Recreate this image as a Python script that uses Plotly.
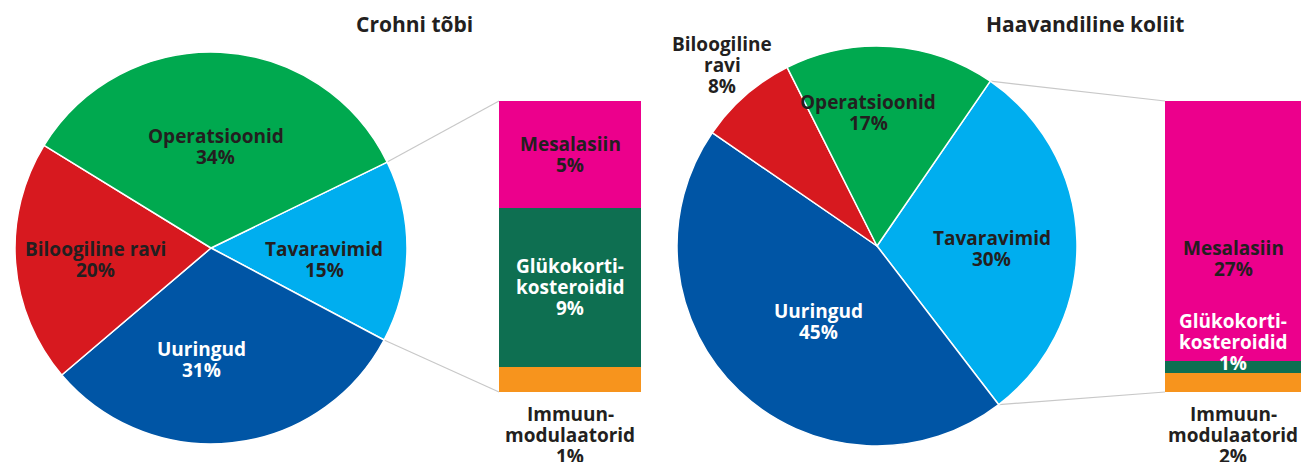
import math
import plotly.graph_objects as go

# ---------------- data ----------------
pie_titles = ["Crohni tõbi", "Haavandiline koliit"]
pie_categories = ["Tavaravimid", "Uuringud", "Biloogiline ravi", "Operatsioonid"]
crohn_values = [15, 31, 20, 34]
colitis_values = [30, 45, 8, 17]
crohn_pie_names = ["Tavaravimid", "Uuringud", "Biloogiline ravi", "Operatsioonid"]
colitis_pie_names = ["Tavaravimid", "Uuringud", "Biloogiline<br>ravi", "Operatsioonid"]

bar_categories = ["Immuunmodulaatorid", "Glükokortikosteroidid", "Mesalasiin"]  # bottom -> top
bar_names = ["Immuun-<br>modulaatorid", "Glükokorti-<br>kosteroidid", "Mesalasiin"]
crohn_bar_values = [1.3, 8.2, 5.5]
colitis_bar_values = [2.0, 1.2, 26.8]
crohn_bar_labels = ["1%", "9%", "5%"]
colitis_bar_labels = ["2%", "1%", "27%"]

# ---------------- style ----------------
W, H = 1301, 462
FONT = "Open Sans"
DARK = "#231f20"
WHITE = "#ffffff"
pie_colors = ["#00aeef", "#0055a5", "#d7191f", "#00a94f"]
pie_text_colors = [DARK, WHITE, DARK, DARK]
bar_colors = ["#f7941d", "#0e6f51", "#ec008c"]
bar_text_colors = [DARK, WHITE, DARK]

PIE_CENTERS = [(211, 248), (877, 246)]   # px, top-left origin
PIE_RADII = [196, 200]
PIE_ROT = [64.0, 34.5]
LABEL_RF = [[0.58, 0.57, 0.59, 0.52], [0.575, 0.48, 1.19, 0.67]]
LABEL_DA = [[5, 11, -1.5, 0], [2.5, -5.7, 0.5, -7.7]]
BAR_X = [(499, 641), (1165, 1301)]
BAR_Y = (101, 392)
BAR_LABEL_SHIFT = [[-43, 0, 0], [-43, 25, -28]]
TITLE_POS = [(414, 24), (1085, 24)]
LINE_H = 21
LABEL_SIZE = 19

fig = go.Figure()


def add_text(x, y, text, color, size, xref="paper", yref="paper", yshift=0, line_h=LINE_H):
    lines = text.split("<br>")
    n = len(lines)
    for i, ln in enumerate(lines):
        fig.add_annotation(
            x=x, y=y, xref=xref, yref=yref, text="<b>%s</b>" % ln, showarrow=False,
            font=dict(family=FONT, size=size, color=color),
            xanchor="center", yanchor="middle",
            yshift=yshift + ((n - 1) / 2 - i) * line_h,
        )


pie_values = [crohn_values, colitis_values]
pie_names = [crohn_pie_names, colitis_pie_names]
bar_values = [crohn_bar_values, colitis_bar_values]
bar_labels = [crohn_bar_labels, colitis_bar_labels]

for k in range(2):
    cx, cy = PIE_CENTERS[k]
    r = PIE_RADII[k]
    fig.add_trace(go.Pie(
        labels=pie_categories, values=pie_values[k], sort=False, direction="clockwise",
        rotation=PIE_ROT[k], textinfo="none", hoverinfo="skip", showlegend=False,
        marker=dict(colors=pie_colors, line=dict(color="white", width=1.5)),
        domain=dict(x=[(cx - r) / W, (cx + r) / W], y=[(H - cy - r) / H, (H - cy + r) / H]),
    ))
    total = sum(pie_values[k])
    # pie labels
    acc = 0
    bounds = []
    for i, v in enumerate(pie_values[k]):
        a0 = PIE_ROT[k] + 360 * acc / total
        acc += v
        a1 = PIE_ROT[k] + 360 * acc / total
        bounds.append((a0, a1))
        mid = math.radians((a0 + a1) / 2 + LABEL_DA[k][i])
        rr = LABEL_RF[k][i] * r
        px = cx + rr * math.sin(mid)
        py = cy - rr * math.cos(mid)
        add_text(px / W, 1 - py / H, "%s<br>%d%%" % (pie_names[k][i], v),
                 pie_text_colors[i], LABEL_SIZE)

    # stacked bar subplot
    xa = "xaxis" if k == 0 else "xaxis2"
    ya = "yaxis" if k == 0 else "yaxis2"
    xr = "x" if k == 0 else "x2"
    yr = "y" if k == 0 else "y2"
    bx0, bx1 = BAR_X[k]
    by0, by1 = BAR_Y
    fig.update_layout(**{
        xa: dict(domain=[bx0 / W, bx1 / W], range=[-0.5, 0.5], visible=False, fixedrange=True,
                 anchor=yr),
        ya: dict(domain=[(H - by1) / H, (H - by0) / H], range=[0, sum(bar_values[k])],
                 visible=False, fixedrange=True, anchor=xr),
    })
    cum = 0
    for j, v in enumerate(bar_values[k]):
        fig.add_trace(go.Bar(
            x=[0], y=[v], width=1, xaxis=xr, yaxis=yr, marker=dict(color=bar_colors[j], line=dict(width=0)),
            hoverinfo="skip", showlegend=False, name=bar_categories[j],
        ))
        ymid = 0 if j == 0 else cum + v / 2
        add_text(0, ymid, "%s<br>%s" % (bar_names[j], bar_labels[k][j]), bar_text_colors[j],
                 LABEL_SIZE, xref=xr, yref=yr, yshift=BAR_LABEL_SHIFT[k][j])
        cum += v

    # connector lines from the Tavaravimid slice edges to the bar corners
    a0, a1 = bounds[0]
    p0 = (cx + r * math.sin(math.radians(a0)), cy - r * math.cos(math.radians(a0)))
    p1 = (cx + r * math.sin(math.radians(a1)), cy - r * math.cos(math.radians(a1)))
    for (sx, sy), (ex, ey) in [(p0, (bx0, by0)), (p1, (bx0, by1))]:
        fig.add_shape(type="line", xref="paper", yref="paper",
                      x0=sx / W, y0=1 - sy / H, x1=ex / W, y1=1 - ey / H,
                      line=dict(color="#c8c8c8", width=1.2), layer="below")

    # title
    tx, ty = TITLE_POS[k]
    fig.add_annotation(x=tx / W, y=1 - ty / H, xref="paper", yref="paper",
                       text="<b>%s</b>" % pie_titles[k], showarrow=False,
                       font=dict(family=FONT, size=21, color=DARK),
                       xanchor="center", yanchor="middle")

fig.update_layout(
    width=W, height=H, margin=dict(l=0, r=0, t=0, b=0),
    paper_bgcolor="white", plot_bgcolor="white", barmode="stack", bargap=0,
    showlegend=False,
)

fig.write_html("out.html", config={"displayModeBar": False},
               post_script="document.body.style.margin='0';")
